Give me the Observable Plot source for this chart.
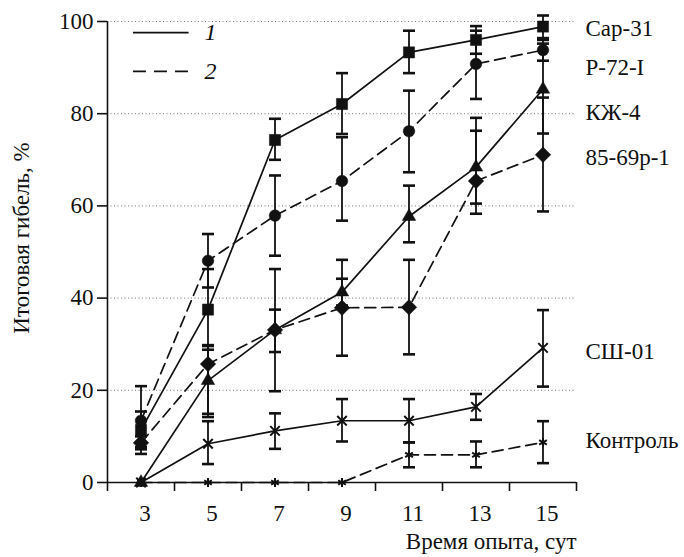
<!DOCTYPE html>
<html><head><meta charset="utf-8">
<script src="https://cdn.jsdelivr.net/npm/d3@7"></script>
<script src="https://cdn.jsdelivr.net/npm/@observablehq/plot@0.6"></script>
<style>
body{margin:0;background:#fff}
#chart svg{display:block}
</style>
</head><body><div id="chart"></div>
<script>
const days = [3, 5, 7, 9, 11, 13, 15];

const seriesNames = ["Сар-31", "Р-72-I", "КЖ-4", "85-69р-1", "СШ-01", "Контроль"];
const seriesGroup = [1, 2, 1, 2, 1, 2];

const sar31    = [11.4, 37.5, 74.3, 82.1, 93.3, 96.0, 98.9];
const sar31Lo  = [7.7, 28.8, 70.0, 75.6, 88.8, 93.0, 96.4];
const sar31Hi  = [15.4, 46.3, 78.9, 88.8, 98.0, 99.0, 101.3];

const p72      = [13.4, 48.1, 57.9, 65.4, 76.2, 90.8, 93.8];
const p72Lo    = [6.2, 42.3, 49.2, 56.8, 67.3, 83.2, 91.5];
const p72Hi    = [20.9, 53.9, 66.6, 74.9, 85.0, 98.0, 96.0];

const kzh4     = [0, 22.1, 33.1, 41.3, 57.7, 68.4, 85.3];
const kzh4Lo   = [null, 14.2, 19.8, 38.4, 52.1, 60.5, 75.7];
const kzh4Hi   = [null, 29.8, 46.3, 44.2, 64.4, 76.3, 95.2];

const s8569    = [8.6, 25.7, 33.1, 37.9, 38.0, 65.4, 71.1];
const s8569Lo  = [7.2, 14.9, 28.3, 27.5, 27.8, 58.3, 58.8];
const s8569Hi  = [10.0, 29.6, 37.5, 48.3, 48.3, 79.1, 83.5];

const sh01     = [0, 8.4, 11.2, 13.4, 13.4, 16.4, 29.2];
const sh01Lo   = [null, 4.0, 7.3, 8.9, 8.7, 13.6, 20.8];
const sh01Hi   = [null, 13.3, 15.0, 18.1, 18.1, 19.2, 37.4];

const ctrl     = [0, 0, 0, 0, 6.0, 6.0, 8.7];
const ctrlLo   = [null, null, null, null, 3.3, 3.3, 4.2];
const ctrlHi   = [null, null, null, null, 8.7, 8.9, 13.3];

const labelY = [98.4, 90.0, 80.2, 70.4, 28.4, 9.0];

const yTicks = [0, 20, 40, 60, 80, 100];
const xTickMarks = [2, 4, 6, 8, 10, 12, 14, 16];
const xLabels = [3, 5, 7, 9, 11, 13, 15];

const legendKeys = ["1", "2"];
const legendY = [97.6, 89.2];
const legendX = [2.76, 4.42];

const values = [sar31, p72, kzh4, s8569, sh01, ctrl];
const lows = [sar31Lo, p72Lo, kzh4Lo, s8569Lo, sh01Lo, ctrlLo];
const highs = [sar31Hi, p72Hi, kzh4Hi, s8569Hi, sh01Hi, ctrlHi];

const diamondSym = {
  draw(ctx, size) {
    const h = Math.sqrt(size / 2);
    ctx.moveTo(0, -h); ctx.lineTo(h, 0); ctx.lineTo(0, h); ctx.lineTo(-h, 0); ctx.closePath();
  }
};
const symbols = ["square", "circle", "triangle", diamondSym, "times", "asterisk"];
const symR = [6.3, 5.8, 5.0, 6.2, 4.4, 4.2];

const rows = seriesNames.flatMap((name, i) => days.map((d, j) => ({
  name, idx: i, group: seriesGroup[i], x: d, v: values[i][j], lo: lows[i][j], hi: highs[i][j]
})));
const errRows = rows.filter(r => r.lo != null);
const capW = 0.18;

const font = "Liberation Serif";
const fs = 23;
const dash = "11,6";

const legendRows = legendKeys.map((k, i) => ({k, y: legendY[i], group: i + 1}));

const T = {fontFamily: font, fill: "#111"};

const marks = [
  Plot.ruleY([20, 40, 60, 80, 100], {x1: 2, x2: 16, stroke: "#777", strokeWidth: 1, strokeDasharray: "1,2.5"}),
  Plot.ruleX([2], {y1: 0, y2: 100, stroke: "#111", strokeWidth: 1.6}),
  Plot.ruleY([0], {x1: 2, x2: 16, stroke: "#111", strokeWidth: 1.6}),
  Plot.axisY({ticks: yTicks, tickSize: 10, tickPadding: 4, fontSize: fs, fontFamily: font, label: null, stroke: "#111", strokeWidth: 1.6}),
  Plot.axisX({ticks: xTickMarks, tickSize: 9, tickFormat: () => "", label: null, stroke: "#111", strokeWidth: 1.6}),
  Plot.axisX({ticks: xLabels, tickSize: 0, tickPadding: 22, dx: 4, fontSize: fs, fontFamily: font, label: null}),
  // error bars
  Plot.ruleX(errRows, {x: "x", y1: "lo", y2: "hi", stroke: "#111", strokeWidth: 1.8}),
  Plot.link(errRows, {x1: d => d.x - capW, x2: d => d.x + capW, y1: "hi", y2: "hi", stroke: "#111", strokeWidth: 2.6}),
  Plot.link(errRows, {x1: d => d.x - capW, x2: d => d.x + capW, y1: "lo", y2: "lo", stroke: "#111", strokeWidth: 2.6}),
  // lines
  Plot.line(rows.filter(r => r.group === 1), {x: "x", y: "v", z: "name", stroke: "#111", strokeWidth: 1.7}),
  Plot.line(rows.filter(r => r.group === 2), {x: "x", y: "v", z: "name", stroke: "#111", strokeWidth: 1.7, strokeDasharray: dash}),
  // markers
  ...seriesNames.map((name, i) => {
    const hollow = symbols[i] === "times" || symbols[i] === "asterisk";
    return Plot.dot(rows.filter(r => r.idx === i), {
      x: "x", y: "v", symbol: symbols[i], r: symR[i],
      fill: hollow ? "none" : "#111", stroke: "#111", strokeWidth: hollow ? 2 : 0.5
    });
  }),
  // right labels
  Plot.text(seriesNames, {x: () => 16, y: (d, i) => labelY[i], text: d => d, textAnchor: "start", dx: 9, fontSize: fs, ...T}),
  // legend
  Plot.link(legendRows.filter(d => d.group === 1), {x1: () => legendX[0], x2: () => legendX[1], y1: "y", y2: "y", stroke: "#111", strokeWidth: 1.7}),
  Plot.link(legendRows.filter(d => d.group === 2), {x1: () => legendX[0], x2: () => legendX[1], y1: "y", y2: "y", stroke: "#111", strokeWidth: 1.7, strokeDasharray: "13,8"}),
  Plot.text(legendRows, {x: () => legendX[1], y: "y", text: "k", dx: 16, textAnchor: "start", fontSize: 24, fontStyle: "italic", ...T}),
  // axis titles
  Plot.text(["Итоговая гибель, %"], {frameAnchor: "left", textAnchor: "middle", rotate: -90, dx: -86, dy: -14, fontSize: fs, ...T}),
  Plot.text(["Время опыта, сут"], {frameAnchor: "bottom-right", textAnchor: "end", dy: 66, fontSize: fs, ...T})
];

const chart = Plot.plot({
  width: 684, height: 557,
  marginLeft: 107, marginRight: 108, marginTop: 21, marginBottom: 75,
  style: {fontFamily: font, fontSize: fs + "px", color: "#111", background: "#fff"},
  x: {domain: [2, 16], axis: null},
  y: {domain: [0, 100], axis: null},
  marks
});
document.getElementById("chart").appendChild(chart);
</script>
</body></html>
